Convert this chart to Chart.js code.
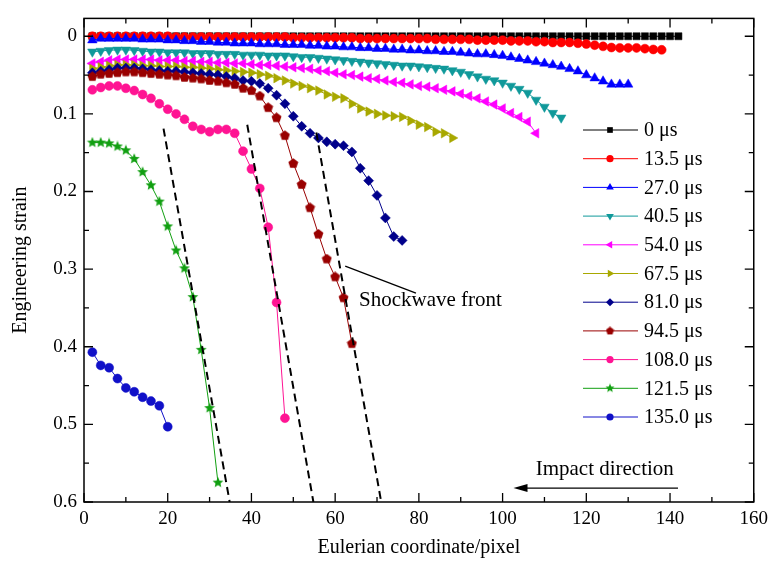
<!DOCTYPE html>
<html>
<head>
<meta charset="utf-8">
<script src="https://cdn.jsdelivr.net/npm/chart.js@4.4.1/dist/chart.umd.min.js"></script>
<style>
    html, body { margin: 0; padding: 0; background: #fff; }
    #wrap { width: 774px; height: 561px; }
</style>
</head>
<body>
<div id="wrap"><canvas id="strainChart" width="774" height="561"></canvas></div>
<script>
// sampling positions along the bar (pixel), shared by every time step
const xGrid = [2, 4, 6, 8, 10, 12, 14, 16, 18, 20, 22, 24, 26, 28, 30, 32, 34, 36, 38, 40,
    42, 44, 46, 48, 50, 52, 54, 56, 58, 60, 62, 64, 66, 68, 70, 72, 74, 76, 78, 80,
    82, 84, 86, 88, 90, 92, 94, 96, 98, 100, 102, 104, 106, 108, 110, 112, 114, 116, 118, 120,
    122, 124, 126, 128, 130, 132, 134, 136, 138, 140, 142];

const seriesLabels = ['0 \u03bcs', '13.5 \u03bcs', '27.0 \u03bcs', '40.5 \u03bcs', '54.0 \u03bcs', '67.5 \u03bcs',
    '81.0 \u03bcs', '94.5 \u03bcs', '108.0 \u03bcs', '121.5 \u03bcs', '135.0 \u03bcs'];

const strain0 = [0, 0, 0, 0, 0, 0, 0, 0, 0, 0, 0, 0, 0, 0, 0, 0, 0, 0, 0, 0,
    0, 0, 0, 0, 0, 0, 0, 0, 0, 0, 0, 0, 0, 0, 0, 0, 0, 0, 0, 0,
    0, 0, 0, 0, 0, 0, 0, 0, 0, 0, 0, 0, 0, 0, 0, 0, 0, 0, 0, 0,
    0, 0, 0, 0, 0, 0, 0, 0, 0, 0, 0];
const strain13 = [0, 0, 0, 0, 0, 0, 0, 0, 0, 0, 0.001, 0.001, 0.001, 0.001, 0.001, 0.001, 0.001, 0.001, 0.001, 0.001,
    0.001, 0.001, 0.001, 0.001, 0.002, 0.002, 0.002, 0.002, 0.002, 0.002, 0.002, 0.002, 0.003, 0.003, 0.003, 0.003, 0.003, 0.003, 0.003, 0.003,
    0.003, 0.004, 0.004, 0.004, 0.004, 0.004, 0.005, 0.005, 0.005, 0.005, 0.006, 0.006, 0.006, 0.007, 0.007, 0.008, 0.008,
    0.008, 0.009, 0.010, 0.0115, 0.013, 0.0145, 0.015, 0.015, 0.015, 0.016, 0.017, 0.0175];
const strain27 = [0.005, 0.003, 0.003, 0.003, 0.003, 0.003, 0.004, 0.004, 0.004, 0.005, 0.005, 0.006, 0.006, 0.007, 0.007, 0.008, 0.008, 0.009, 0.009, 0.009,
    0.010, 0.010, 0.010, 0.011, 0.011, 0.011, 0.012, 0.012, 0.013, 0.013, 0.014, 0.014, 0.015, 0.015, 0.016, 0.016, 0.017, 0.017, 0.018, 0.018,
    0.019, 0.019, 0.020, 0.020, 0.021, 0.022, 0.023, 0.023, 0.024, 0.025, 0.027, 0.029, 0.031, 0.033, 0.035, 0.037, 0.039,
    0.042, 0.045, 0.050, 0.054, 0.058, 0.062, 0.062, 0.062];
const strain40 = [0.020, 0.019, 0.018, 0.0175, 0.0175, 0.018, 0.019, 0.020, 0.020, 0.021, 0.021, 0.021, 0.022, 0.022, 0.022, 0.023, 0.023, 0.023, 0.024, 0.024,
    0.024, 0.025, 0.025, 0.025, 0.026, 0.027, 0.027, 0.028, 0.029, 0.030, 0.031, 0.032, 0.033, 0.034, 0.035, 0.036, 0.037, 0.038, 0.038, 0.039,
    0.040, 0.041, 0.042, 0.044, 0.046, 0.049, 0.052, 0.055, 0.057, 0.060, 0.064, 0.068, 0.073, 0.082, 0.091, 0.099, 0.105];
const strain54 = [0.035, 0.033, 0.031, 0.030, 0.030, 0.030, 0.030, 0.030, 0.031, 0.031, 0.031, 0.032, 0.032, 0.033, 0.033, 0.034, 0.034, 0.035, 0.035, 0.036,
    0.037, 0.037, 0.038, 0.039, 0.040, 0.041, 0.042, 0.044, 0.045, 0.047, 0.049, 0.050, 0.052, 0.054, 0.055, 0.057, 0.059, 0.060, 0.062, 0.064,
    0.065, 0.067, 0.069, 0.071, 0.074, 0.077, 0.080, 0.084, 0.088, 0.093, 0.099, 0.104, 0.110, 0.125];
const strain67 = [0.042, 0.040, 0.038, 0.037, 0.037, 0.037, 0.038, 0.038, 0.039, 0.039, 0.039, 0.040, 0.040, 0.041, 0.042, 0.043, 0.044, 0.045, 0.046, 0.047,
    0.049, 0.051, 0.054, 0.057, 0.061, 0.064, 0.067, 0.070, 0.075, 0.078, 0.080, 0.087, 0.093, 0.097, 0.100, 0.102, 0.103, 0.104, 0.109, 0.114,
    0.117, 0.123, 0.125, 0.131];
const strain81 = [0.047, 0.045, 0.043, 0.041, 0.041, 0.041, 0.042, 0.043, 0.044, 0.045, 0.045, 0.046, 0.047, 0.048, 0.049, 0.050, 0.052, 0.054, 0.057, 0.058,
    0.061, 0.067, 0.076, 0.087, 0.103, 0.116, 0.125, 0.131, 0.136, 0.139, 0.141, 0.149, 0.170, 0.186, 0.205, 0.234, 0.258, 0.263];
const strain94 = [0.052, 0.049, 0.048, 0.047, 0.046, 0.046, 0.047, 0.048, 0.049, 0.050, 0.051, 0.053, 0.054, 0.055, 0.057, 0.058, 0.060, 0.062, 0.067, 0.070,
    0.077, 0.092, 0.105, 0.128, 0.164, 0.191, 0.221, 0.255, 0.287, 0.310, 0.337, 0.396];
const strain108 = [0.069, 0.066, 0.064, 0.064, 0.067, 0.070, 0.075, 0.080, 0.087, 0.094, 0.100, 0.107, 0.116, 0.120, 0.123, 0.120, 0.120, 0.125, 0.148, 0.171,
    0.196, 0.246, 0.343, 0.492];
const strain121 = [0.137, 0.137, 0.138, 0.142, 0.147, 0.158, 0.175, 0.192, 0.213, 0.245, 0.276, 0.299, 0.336, 0.404, 0.479, 0.575];
const strain135 = [0.407, 0.424, 0.427, 0.441, 0.453, 0.458, 0.465, 0.470, 0.476, 0.503];

// dashed shockwave-front guides: [top end, bottom end]
const frontX = [[19.0, 34.8], [39.0, 54.8], [55.5, 71.0]];
const frontY = [[0.119, 0.6], [0.114, 0.6], [0.124, 0.6]];

const xTicks = [0, 20, 40, 60, 80, 100, 120, 140, 160];
const xMinor = [10, 30, 50, 70, 90, 110, 130, 150];
const yTicks = [0, 0.1, 0.2, 0.3, 0.4, 0.5, 0.6];
const yMinor = [0.05, 0.15, 0.25, 0.35, 0.45, 0.55];

const FONT = '"Liberation Serif", "DejaVu Serif", serif';

function makeMarker(kind, color, size) {
    const c = document.createElement('canvas');
    c.width = size;
    c.height = size;
    const g = c.getContext('2d');
    const cx = size / 2, cy = size / 2, R = size / 2 - 0.3;
    const n = kind === 'star' ? 10 : 5;
    g.fillStyle = color;
    g.beginPath();
    for (let k = 0; k < n; k++) {
        const a = -Math.PI / 2 + k * 2 * Math.PI / n;
        const rr = (kind === 'star' && k % 2) ? R * 0.45 : R;
        const px = cx + rr * Math.cos(a), py = cy + rr * Math.sin(a);
        if (k) g.lineTo(px, py); else g.moveTo(px, py);
    }
    g.closePath();
    g.fill();
    return c;
}

const styles = [
    { color: '#000000', point: 'rect', rot: 0, r: 5 },
    { color: '#ff0000', point: 'circle', rot: 0, r: 4.5 },
    { color: '#0000ff', point: 'triangle', rot: 0, r: 5.5 },
    { color: '#10999a', point: 'triangle', rot: 180, r: 5.5 },
    { color: '#ff00ff', point: 'triangle', rot: -90, r: 5.5 },
    { color: '#a8a800', point: 'triangle', rot: 90, r: 5.5 },
    { color: '#00008b', point: 'rectRot', rot: 0, r: 5 },
    { color: '#990000', point: makeMarker('pent', '#990000', 11), rot: 0, r: 5 },
    { color: '#ff1493', point: 'circle', rot: 0, r: 4.5 },
    { color: '#119f11', point: makeMarker('star', '#119f11', 12), rot: 0, r: 5 },
    { color: '#1010c8', point: 'circle', rot: 0, r: 4.5 }
];
const legendIcons = [null, null, null, null, null, null, null,
    makeMarker('pent', '#990000', 9), null, makeMarker('star', '#119f11', 10), null];

const allSeries = [strain0, strain13, strain27, strain40, strain54, strain67,
    strain81, strain94, strain108, strain121, strain135];

const datasets = allSeries.map((ys, i) => ({
    label: seriesLabels[i],
    data: ys.map((v, k) => ({ x: xGrid[k], y: v })),
    borderColor: styles[i].color,
    backgroundColor: styles[i].color,
    borderWidth: 1,
    pointStyle: styles[i].point,
    pointRotation: styles[i].rot,
    pointRadius: styles[i].r,
    pointBorderWidth: 0.5,
    pointBorderColor: styles[i].color,
    pointBackgroundColor: styles[i].color,
    tension: 0,
    order: -i
}));

frontX.forEach((fx, i) => {
    datasets.push({
        label: 'front' + i,
        data: fx.map((v, k) => ({ x: v, y: frontY[i][k] })),
        borderColor: '#000',
        borderWidth: 2,
        borderDash: [8, 5],
        pointRadius: 0,
        order: -100
    });
});

// frame with inward ticks on four sides, legend and annotations
const decorPlugin = {
    id: 'decor',
    afterDraw(chart) {
        const { ctx, chartArea: a, scales: { x, y } } = chart;
        ctx.save();
        ctx.strokeStyle = '#000';
        ctx.lineWidth = 1.5;
        ctx.strokeRect(a.left, a.top, a.right - a.left, a.bottom - a.top);

        ctx.lineWidth = 1.3;
        ctx.beginPath();
        const tickX = (v, len) => {
            const p = x.getPixelForValue(v);
            ctx.moveTo(p, a.bottom); ctx.lineTo(p, a.bottom - len);
            ctx.moveTo(p, a.top); ctx.lineTo(p, a.top + len);
        };
        const tickY = (v, len) => {
            const p = y.getPixelForValue(v);
            ctx.moveTo(a.left, p); ctx.lineTo(a.left + len, p);
            ctx.moveTo(a.right, p); ctx.lineTo(a.right - len, p);
        };
        xTicks.forEach(v => tickX(v, 9));
        xMinor.forEach(v => tickX(v, 5));
        yTicks.forEach(v => tickY(v, 9));
        yMinor.forEach(v => tickY(v, 5));
        ctx.stroke();

        // legend
        ctx.font = '20px ' + FONT;
        ctx.textBaseline = 'middle';
        ctx.textAlign = 'left';
        const lx = 583, rowH = 28.7, ly = 130;
        allSeries.forEach((s, i) => {
            const cy = ly + i * rowH;
            const st = styles[i];
            ctx.strokeStyle = st.color;
            ctx.fillStyle = st.color;
            ctx.lineWidth = 1;
            ctx.beginPath();
            ctx.moveTo(lx, cy); ctx.lineTo(lx + 55, cy);
            ctx.stroke();
            Chart.helpers.drawPoint(ctx, {
                pointStyle: legendIcons[i] || st.point,
                rotation: st.rot,
                radius: st.r * 0.8,
                borderWidth: 0
            }, lx + 27, cy);
            ctx.fillStyle = '#000';
            ctx.fillText(seriesLabels[i], lx + 61, cy + 1);
        });

        // shockwave label and leader
        ctx.font = '21px ' + FONT;
        ctx.strokeStyle = '#000';
        ctx.lineWidth = 1.3;
        ctx.beginPath();
        ctx.moveTo(x.getPixelForValue(62.4), y.getPixelForValue(0.296));
        ctx.lineTo(x.getPixelForValue(79.3), y.getPixelForValue(0.331));
        ctx.stroke();
        ctx.fillStyle = '#000';
        ctx.fillText('Shockwave front', x.getPixelForValue(65.7), y.getPixelForValue(0.341));

        // impact direction arrow
        ctx.fillText('Impact direction', x.getPixelForValue(107.9), y.getPixelForValue(0.558));
        const ay = y.getPixelForValue(0.582);
        const ax0 = x.getPixelForValue(102.6), ax1 = x.getPixelForValue(141.9);
        ctx.beginPath();
        ctx.moveTo(ax1, ay); ctx.lineTo(ax0 + 10, ay);
        ctx.stroke();
        ctx.beginPath();
        ctx.moveTo(ax0, ay);
        ctx.lineTo(ax0 + 14, ay - 4);
        ctx.lineTo(ax0 + 14, ay + 4);
        ctx.closePath();
        ctx.fill();
        ctx.restore();
    }
};

new Chart(document.getElementById('strainChart'), {
    type: 'line',
    data: { datasets: datasets },
    options: {
        responsive: false,
        animation: false,
        layout: { padding: { left: 0, top: 13, right: 18, bottom: 0 } },
        plugins: {
            legend: { display: false },
            tooltip: { enabled: false }
        },
        scales: {
            x: {
                type: 'linear',
                min: 0,
                max: 160,
                afterBuildTicks: scale => { scale.ticks = xTicks.map(v => ({ value: v })); },
                afterFit: scale => { scale.height = 59; },
                grid: { display: false, drawTicks: false },
                border: { display: false },
                ticks: {
                    padding: 6,
                    autoSkip: false,
                    maxRotation: 0,
                    color: '#000',
                    font: { family: FONT, size: 19 }
                },
                title: {
                    display: true,
                    text: 'Eulerian coordinate/pixel',
                    color: '#000',
                    font: { family: FONT, size: 20, lineHeight: 1.2 },
                    padding: { top: 0, bottom: 1 }
                }
            },
            y: {
                type: 'linear',
                reverse: true,
                min: -0.023,
                max: 0.6,
                afterBuildTicks: scale => { scale.ticks = yTicks.map(v => ({ value: v })); },
                afterFit: scale => { scale.width = 84; },
                grid: { display: false, drawTicks: false },
                border: { display: false },
                ticks: {
                    padding: 7,
                    color: '#000',
                    font: { family: FONT, size: 19 },
                    callback: v => v === 0 ? '0' : v.toFixed(1)
                },
                title: {
                    display: true,
                    text: 'Engineering strain',
                    color: '#000',
                    font: { family: FONT, size: 20, lineHeight: 1.2 },
                    padding: { top: 9, bottom: 0 }
                }
            }
        }
    },
    plugins: [decorPlugin]
});
</script>
</body>
</html>
